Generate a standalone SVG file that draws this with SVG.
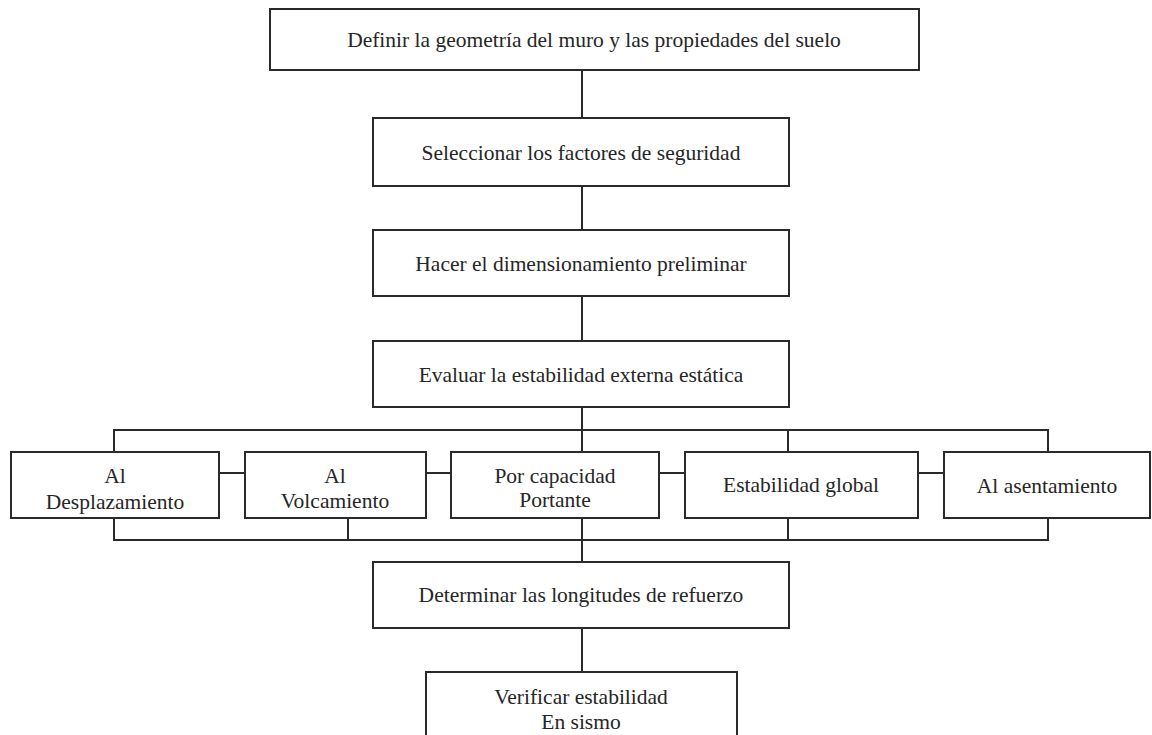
<svg xmlns="http://www.w3.org/2000/svg" width="1152" height="735" viewBox="0 0 1152 735">
<style>
.box{fill:#fff;stroke:#2a2a2a;stroke-width:2}
.ln{fill:none;stroke:#2a2a2a;stroke-width:2}
text{font-family:"Liberation Serif","Times New Roman",serif;font-size:21.5px;fill:#262626;text-anchor:middle}
</style>
<rect width="1152" height="735" fill="#fff"/>
<g id="connectors">
<path class="ln" d="M582 70V118 M582 186V230 M582 296V341 M582 407V452"/>
<path class="ln" d="M114 452V430H1048V452 M788 430V452"/>
<path class="ln" d="M219 473H245 M426 473H451 M659 473H685 M918 473H944"/>
<path class="ln" d="M114 518V540H1048V518 M348 518V540 M582 518V562 M788 518V540"/>
<path class="ln" d="M582 628V672"/>
</g>
<g id="n1"><rect class="box" x="270" y="9" width="649" height="61"/><text x="594" y="47">Definir la geometría del muro y las propiedades del suelo</text></g>
<g id="n2"><rect class="box" x="373" y="118" width="416" height="68"/><text x="581" y="160">Seleccionar los factores de seguridad</text></g>
<g id="n3"><rect class="box" x="373" y="230" width="416" height="66"/><text x="581" y="271">Hacer el dimensionamiento preliminar</text></g>
<g id="n4"><rect class="box" x="373" y="341" width="416" height="66"/><text x="581" y="382">Evaluar la estabilidad externa estática</text></g>
<g id="nA"><rect class="box" x="11" y="452" width="208" height="66"/><text x="115" y="483">Al</text><text x="115" y="509">Desplazamiento</text></g>
<g id="nB"><rect class="box" x="245" y="452" width="181" height="66"/><text x="335" y="483">Al</text><text x="335" y="508">Volcamiento</text></g>
<g id="nC"><rect class="box" x="451" y="452" width="208" height="66"/><text x="555" y="483">Por capacidad</text><text x="555" y="507">Portante</text></g>
<g id="nD"><rect class="box" x="685" y="452" width="233" height="66"/><text x="801" y="492">Estabilidad global</text></g>
<g id="nE"><rect class="box" x="944" y="452" width="206" height="66"/><text x="1047" y="493">Al asentamiento</text></g>
<g id="n5"><rect class="box" x="373" y="562" width="416" height="66"/><text x="581" y="602">Determinar las longitudes de refuerzo</text></g>
<g id="n6"><rect class="box" x="426" y="672" width="311" height="80"/><text x="581" y="704">Verificar estabilidad</text><text x="581" y="729">En sismo</text></g>
</svg>
